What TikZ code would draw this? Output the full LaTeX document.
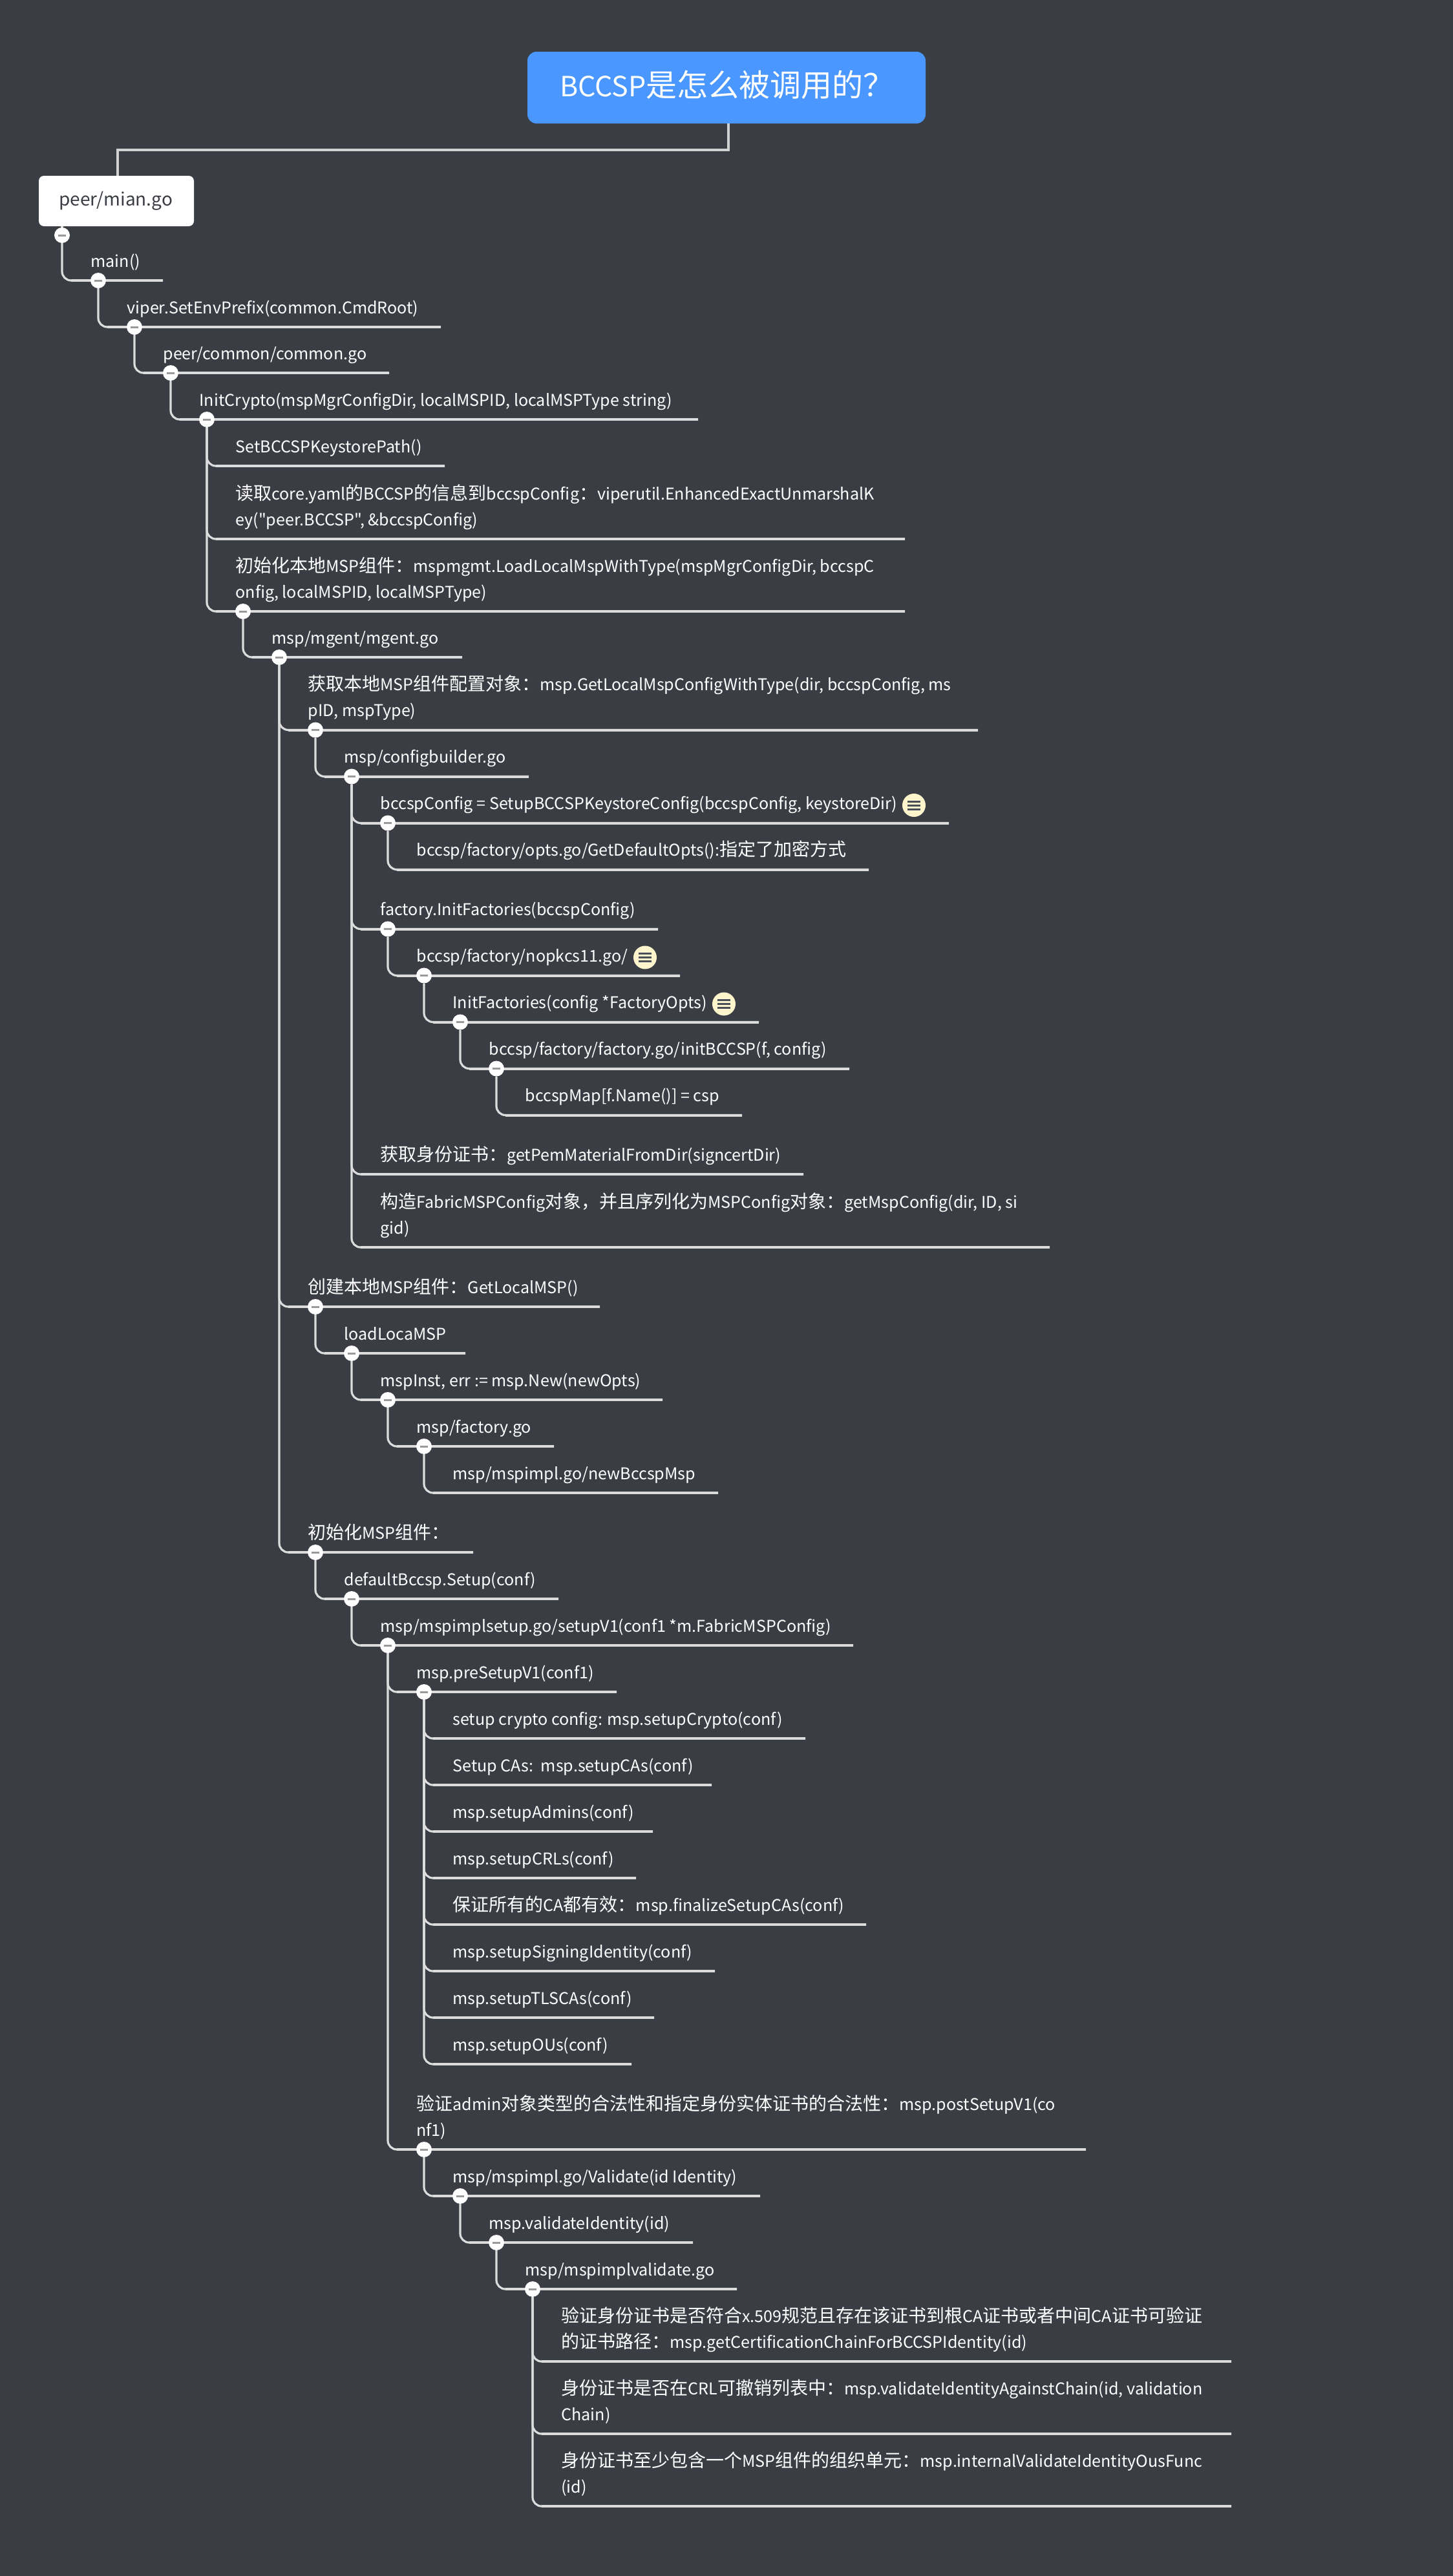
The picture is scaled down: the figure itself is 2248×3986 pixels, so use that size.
\documentclass[tikz,border=0pt]{standalone}
\usepackage{fontspec}
\newfontfamily\nsc{Noto Sans CJK SC}
\definecolor{bgc}{HTML}{3A3D43}
\definecolor{rootc}{HTML}{4A97FF}
\definecolor{linec}{HTML}{DCDCDC}
\definecolor{barc}{HTML}{999999}
\definecolor{notec}{HTML}{FFF5CC}
\definecolor{notebar}{HTML}{4A5058}
\tikzset{
  rootbox/.style={fill=rootc,rounded corners=14pt,inner sep=0pt,minimum width=616pt,minimum height=111pt},
  topicbox/.style={fill=white,rounded corners=8pt,inner sep=0pt,minimum width=240pt,minimum height=78pt},
  rootlink/.style={line width=4pt,color=linec!95!black},
  elbow/.style={line width=3.2pt,color=linec,rounded corners=14pt},
  underline/.style={line width=4pt,color=linec},
  lbl/.style={anchor=base west,inner sep=0pt,text=white,font=\nsc\fontsize{25.1}{40}\selectfont},
  collapser/.style={circle,fill=white,minimum size=24pt,inner sep=0pt,
    path picture={\fill[barc] (path picture bounding box.center) ++(-6pt,-1.5pt) rectangle ++(12pt,3pt);}},
  noteicon/.style={circle,fill=notec,minimum size=36pt,inner sep=0pt,
    path picture={\foreach \dy in {-6,0,6}{\fill[notebar] (path picture bounding box.center) ++(-10pt,\dy pt-1.5pt) rectangle ++(20pt,3pt);}}},
}
\newcommand\cj[1]{{\fontsize{28}{40}\selectfont #1}}
\newcommand\twol[2]{\vbox{\baselineskip=40pt\hbox{#1}\hbox{#2}}}
% name, parent collapser, depth, underline y, underline end x, text
\newcommand\branch[6]{%
  \pgfmathsetmacro\tx{84.3+56*#3}%
  \coordinate (#1-end) at (#5,#4);
  \draw[elbow] (#2) |- (#1-end);
  \draw[underline] ([xshift=14pt]#2 |- #1-end) -- (#1-end);
  \node[lbl] (#1) at (\tx,#4-21) {#6};
}
\newcommand\collapse[3]{\node[collapser] (#1-c) at ({96+56*#2},#3) {};}
\begin{document}
\begin{tikzpicture}[x=1pt,y=-1pt]
\useasboundingbox[fill=bgc] (0,0) rectangle (2248,3986);
\node[rootbox] (root) at (1124,135.5) {};
\node[anchor=base west,inner sep=0pt,text=white,font=\nsc\fontsize{43}{50}\selectfont] (roottext) at (866,149) {BCCSP{\fontsize{48}{50}\selectfont 是怎么被调用的？}};
\node[topicbox] (peer) at (180,311) {};
\node[anchor=base west,inner sep=0pt,text=bgc,font=\nsc\fontsize{28}{40}\selectfont] (peertext) at (91,318) {peer/mian.go};
\coordinate (rootdrop) at (1127,232);
\draw[rootlink] (1127,191) -- (rootdrop) -- (181.5,232) -- (181.5,272);
\coordinate (peerdrop) at (96,350);
\node[collapser] (peer-c) at (96,364) {};
\draw[underline] (peerdrop) -- (peer-c);

\branch{main}{peer-c}{1}{434}{252}{main()}
\collapse{main}{1}{434}
\branch{viper}{main-c}{2}{506}{682}{viper.SetEnvPrefix(common.CmdRoot)}
\collapse{viper}{2}{506}
\branch{common}{viper-c}{3}{577}{602}{peer/common/common.go}
\collapse{common}{3}{577}
\branch{initcrypto}{common-c}{4}{649}{1080}{InitCrypto(mspMgrConfigDir, localMSPID, localMSPType string)}
\collapse{initcrypto}{4}{649}
\branch{setks}{initcrypto-c}{5}{721}{688}{SetBCCSPKeystorePath()}
\branch{readcfg}{initcrypto-c}{5}{834}{1400}{\twol{\cj{读取}core.yaml\cj{的}BCCSP\cj{的信息到}bccspConfig\cj{：}viperutil.EnhancedExactUnmarshalK}{ey("peer.BCCSP", \&bccspConfig)}}
\branch{initlocal}{initcrypto-c}{5}{946}{1400}{\twol{\cj{初始化本地}MSP\cj{组件：}mspmgmt.LoadLocalMspWithType(mspMgrConfigDir, bccspC}{onfig, localMSPID, localMSPType)}}
\collapse{initlocal}{5}{946}
\branch{mgent}{initlocal-c}{6}{1017}{715}{msp/mgent/mgent.go}
\collapse{mgent}{6}{1017}
\branch{getcfg}{mgent-c}{7}{1129.5}{1513}{\twol{\cj{获取本地}MSP\cj{组件配置对象：}msp.GetLocalMspConfigWithType(dir, bccspConfig, ms}{pID, mspType)}}
\collapse{getcfg}{7}{1129.5}
\branch{cfgb}{getcfg-c}{8}{1201.5}{818}{msp/configbuilder.go}
\collapse{cfgb}{8}{1201.5}
\branch{setupks}{cfgb-c}{9}{1273.5}{1468}{bccspConfig = SetupBCCSPKeystoreConfig(bccspConfig, keystoreDir)}
\collapse{setupks}{9}{1273.5}
\node[noteicon] (note1) at (1414,1246) {};
\branch{opts}{setupks-c}{10}{1345.5}{1344}{bccsp/factory/opts.go/GetDefaultOpts():\cj{指定了加密方式}}
\branch{factory}{cfgb-c}{9}{1437.5}{1018}{factory.InitFactories(bccspConfig)}
\collapse{factory}{9}{1437.5}
\branch{nopkcs}{factory-c}{10}{1509.5}{1052}{bccsp/factory/nopkcs11.go/}
\collapse{nopkcs}{10}{1509.5}
\node[noteicon] (note2) at (998,1481.5) {};
\branch{initfac}{nopkcs-c}{11}{1581.5}{1174}{InitFactories(config *FactoryOpts)}
\collapse{initfac}{11}{1581.5}
\node[noteicon] (note3) at (1120,1553.5) {};
\branch{facgo}{initfac-c}{12}{1653.5}{1314}{bccsp/factory/factory.go/initBCCSP(f, config)}
\collapse{facgo}{12}{1653.5}
\branch{bmap}{facgo-c}{13}{1725.5}{1148}{bccspMap[f.Name()] = csp}
\branch{getpem}{cfgb-c}{9}{1817}{1243}{\cj{获取身份证书：}getPemMaterialFromDir(signcertDir)}
\branch{fabric}{cfgb-c}{9}{1930}{1624}{\twol{\cj{构造}FabricMSPConfig\cj{对象，并且序列化为}MSPConfig\cj{对象：}getMspConfig(dir, ID, si}{gid)}}
\branch{createlocal}{mgent-c}{7}{2022}{928}{\cj{创建本地}MSP\cj{组件：}GetLocalMSP()}
\collapse{createlocal}{7}{2022}
\branch{loadlocal}{createlocal-c}{8}{2094}{720}{loadLocaMSP}
\collapse{loadlocal}{8}{2094}
\branch{mspinst}{loadlocal-c}{9}{2166}{1025}{mspInst, err := msp.New(newOpts)}
\collapse{mspinst}{9}{2166}
\branch{mspfac}{mspinst-c}{10}{2238}{857}{msp/factory.go}
\collapse{mspfac}{10}{2238}
\branch{newbccsp}{mspfac-c}{11}{2310}{1111}{msp/mspimpl.go/newBccspMsp}
\branch{initmsp}{mgent-c}{7}{2402}{732}{\cj{初始化}MSP\cj{组件：}}
\collapse{initmsp}{7}{2402}
\branch{defbccsp}{initmsp-c}{8}{2474}{864}{defaultBccsp.Setup(conf)}
\collapse{defbccsp}{8}{2474}
\branch{setupv1}{defbccsp-c}{9}{2546}{1320}{msp/mspimplsetup.go/setupV1(conf1 *m.FabricMSPConfig)}
\collapse{setupv1}{9}{2546}
\branch{presetup}{setupv1-c}{10}{2618}{954}{msp.preSetupV1(conf1)}
\collapse{presetup}{10}{2618}
\branch{crypto}{presetup-c}{11}{2690}{1246}{setup crypto config: msp.setupCrypto(conf)}
\branch{cas}{presetup-c}{11}{2762}{1101}{Setup CAs:\ \ msp.setupCAs(conf)}
\branch{admins}{presetup-c}{11}{2834}{1010}{msp.setupAdmins(conf)}
\branch{crls}{presetup-c}{11}{2906}{984}{msp.setupCRLs(conf)}
\branch{finalize}{presetup-c}{11}{2978}{1340}{\cj{保证所有的}CA\cj{都有效：}msp.finalizeSetupCAs(conf)}
\branch{signing}{presetup-c}{11}{3050}{1106}{msp.setupSigningIdentity(conf)}
\branch{tlscas}{presetup-c}{11}{3122}{1012}{msp.setupTLSCAs(conf)}
\branch{ous}{presetup-c}{11}{3194}{977}{msp.setupOUs(conf)}
\branch{postsetup}{setupv1-c}{10}{3326}{1680}{\twol{\cj{验证}admin\cj{对象类型的合法性和指定身份实体证书的合法性：}msp.postSetupV1(co}{nf1)}}
\collapse{postsetup}{10}{3326}
\branch{validate}{postsetup-c}{11}{3398}{1176}{msp/mspimpl.go/Validate(id Identity)}
\collapse{validate}{11}{3398}
\branch{validateid}{validate-c}{12}{3470}{1072}{msp.validateIdentity(id)}
\collapse{validateid}{12}{3470}
\branch{implval}{validateid-c}{13}{3542}{1140}{msp/mspimplvalidate.go}
\collapse{implval}{13}{3542}
\branch{chain}{implval-c}{14}{3654}{1905}{\twol{\cj{验证身份证书是否符合}x.509\cj{规范且存在该证书到根}CA\cj{证书或者中间}CA\cj{证书可验证}}{\cj{的证书路径：}msp.getCertificationChainForBCCSPIdentity(id)}}
\branch{crl}{implval-c}{14}{3766}{1905}{\twol{\cj{身份证书是否在}CRL\cj{可撤销列表中：}msp.validateIdentityAgainstChain(id, validation}{Chain)}}
\branch{ou}{implval-c}{14}{3878}{1905}{\twol{\cj{身份证书至少包含一个}MSP\cj{组件的组织单元：}msp.internalValidateIdentityOusFunc}{(id)}}
\end{tikzpicture}
\end{document}
